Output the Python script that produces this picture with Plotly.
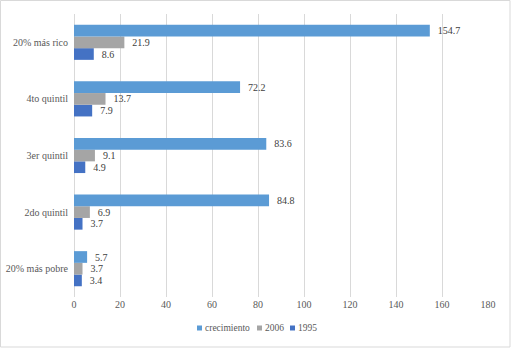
import plotly.graph_objects as go

categories = ['20% más pobre', '2do quintil', '3er quintil', '4to quintil', '20% más rico']
v1995 = [3.4, 3.7, 4.9, 7.9, 8.6]
v2006 = [3.7, 6.9, 9.1, 13.7, 21.9]
crecimiento = [5.7, 84.8, 83.6, 72.2, 154.7]
legend_names = ['crecimiento', '2006', '1995']

W, H = 511, 348
L, R, T, B = 74, 23, 14, 51
pw, ph = W - L - R, H - T - B
FONT = '"Liberation Serif", "Times New Roman", serif'
COLORS = {'1995': '#4472C4', '2006': '#A5A5A5', 'crecimiento': '#5B9BD5'}

fig = go.Figure()
series = [('1995', v1995), ('2006', v2006), ('crecimiento', crecimiento)]
for name, vals in series:
    fig.add_trace(go.Bar(
        y=categories, x=vals, name=name, orientation='h',
        marker=dict(color=COLORS[name], line=dict(width=0)),
        text=['  ' + f'{v:.1f}' for v in vals], textposition='outside',
        textfont=dict(family=FONT, size=10, color='#404040'),
        cliponaxis=False, showlegend=False, hoverinfo='skip',
    ))

def px(x):
    return (x - L) / pw

def py(y):
    return (H - B - y) / ph

# chart border
fig.add_shape(type='rect', xref='paper', yref='paper',
              x0=px(0.5), x1=px(510), y0=py(0.5), y1=py(347),
              line=dict(color='#D9D9D9', width=1), fillcolor='rgba(0,0,0,0)', layer='below')

# manual legend (small squares + text)
legend_x = [197, 257, 290]
for name, lx in zip(legend_names, legend_x):
    fig.add_shape(type='rect', xref='paper', yref='paper',
                  x0=px(lx), x1=px(lx + 5), y0=py(330.5), y1=py(325.5),
                  line=dict(width=0), fillcolor=COLORS[name])
    fig.add_annotation(xref='paper', yref='paper', x=px(lx + 6), y=py(328),
                       xanchor='left', yanchor='middle', showarrow=False, text=name,
                       font=dict(family=FONT, size=9.5, color='#595959'))

fig.update_layout(
    width=W, height=H,
    margin=dict(l=L, r=R, t=T, b=B, autoexpand=False),
    barmode='group', bargap=0.38, bargroupgap=0,
    plot_bgcolor='white', paper_bgcolor='white',
    font=dict(family=FONT, size=10, color='#595959'),
    xaxis=dict(range=[0, 180], dtick=20, showgrid=True, gridcolor='#D9D9D9', gridwidth=1,
               zeroline=True, zerolinecolor='#D9D9D9', zerolinewidth=1, showline=False,
               ticks='', automargin=False,
               tickfont=dict(family=FONT, size=10, color='#595959')),
    yaxis=dict(showgrid=False, showline=False, ticks='', ticklen=0, automargin=False,
               ticksuffix='  ',
               tickfont=dict(family=FONT, size=10, color='#595959')),
    showlegend=False,
)

fig.write_html('out.html', config={'displayModeBar': False},
               post_script="document.body.style.margin='0';document.body.style.overflow='hidden';")
